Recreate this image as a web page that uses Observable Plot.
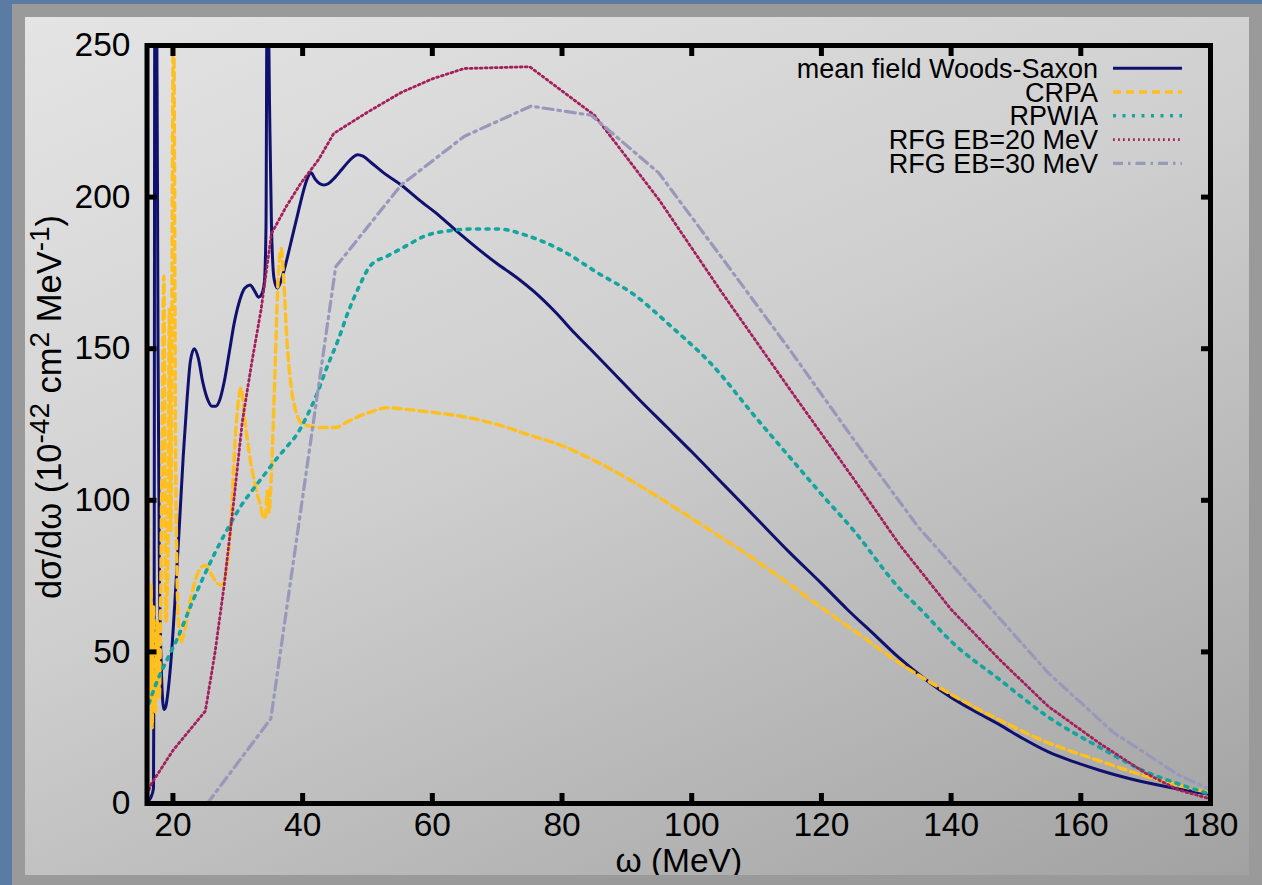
<!DOCTYPE html>
<html>
<head>
<meta charset="utf-8">
<script src="https://cdn.jsdelivr.net/npm/d3@7"></script>
<script src="https://cdn.jsdelivr.net/npm/@observablehq/plot@0.6"></script>
<style>
html, body { margin: 0; padding: 0; }
body { width: 1262px; height: 885px; background: #5a7ca4; position: relative; overflow: hidden;
  font-family: "Liberation Sans", Arial, Helvetica, sans-serif; }
#band { position: absolute; left: 12px; top: 4px; right: 0; bottom: 0; background: #9a9a9a; }
#panel { position: absolute; left: 25px; top: 17px; width: 1224px; height: 858px; overflow: hidden;
  background: linear-gradient(156deg, #e4e4e4 0%, #cfcfcf 45%, #a2a2a2 100%); }
#panel svg { display: block; }
</style>
</head>
<body>
<div id="band"></div>
<div id="panel"></div>
<script>
// ---------- data ----------
const xTicks = [20, 40, 60, 80, 100, 120, 140, 160, 180];
const yTicks = [0, 50, 100, 150, 200, 250];
const seriesNames = ["mean field Woods-Saxon", "CRPA", "RPWIA", "RFG EB=20 MeV", "RFG EB=30 MeV"];
const seriesColors = ["#10106e", "#ffbf1f", "#14a5a0", "#a3205c", "#9898bb"];

const wsOmega = [16.0, 16.6, 17.0, 17.1, 17.2, 17.5, 17.7, 17.9, 18.2, 18.6, 18.9, 19.3, 19.8, 20.4, 21.0, 21.6, 22.2, 22.7, 23.3, 23.9, 24.6, 25.4, 26.0, 26.6, 27.2, 27.9, 28.7, 29.5, 30.3, 31.1, 31.9, 32.6, 33.2, 33.7, 34.1, 34.35, 34.5, 34.7, 34.9, 35.2, 35.6, 36.1, 36.6, 37.4, 38.3, 39.2, 40.0, 40.7, 41.3, 41.9, 42.6, 43.3, 44.0, 45.0, 46.0, 47.2, 48.5, 49.3, 50.5, 52.5, 55.2, 58, 61, 63.9, 67, 70, 73, 75.7, 79, 82, 85, 87.5, 92, 96, 100, 105, 110, 115, 120, 124, 128, 132, 136, 140, 144, 147.7, 151, 155, 159, 163, 167, 171, 175, 180];
const wsSigma = [0.5, 2, 5, 60, 262, 262, 150, 80, 45, 31, 32, 38, 50, 70, 92, 115, 134, 146, 150, 147, 139, 133, 131, 131, 133, 139, 149, 159, 166, 170, 171, 169, 167, 168, 172, 190, 262, 262, 230, 190, 173, 170, 172, 178, 186, 194, 201, 206, 208, 206, 204.5, 204, 204.5, 206.5, 209, 212, 214, 213.5, 211.5, 208, 204, 199, 194, 188.5, 183, 178, 173.5, 168.8, 162, 155, 148.5, 143, 133, 124.5, 116, 105, 94, 83, 72.6, 64, 56, 48, 41, 35, 30, 25.7, 21.5, 17, 13.7, 10.9, 8.5, 6.5, 4.8, 3];

const crpaOmega = [16.0, 16.2, 16.4, 16.6, 16.8, 17.0, 17.3, 17.6, 17.9, 18.3, 18.6, 18.9, 19.2, 19.45, 19.7, 19.9, 20.1, 20.4, 20.8, 21.2, 21.8, 22.6, 23.5, 24.4, 25.0, 25.8, 26.7, 27.6, 28.3, 29.0, 29.6, 30.1, 30.5, 31.0, 31.8, 32.7, 33.5, 34.0, 34.3, 34.55, 34.8, 35.2, 35.7, 36.2, 36.7, 37.1, 37.6, 38.2, 39.0, 39.8, 41, 43, 45, 47, 49, 51, 53, 56, 60, 65, 70, 75, 80, 86, 93, 100, 110, 120.4, 126, 132, 140, 147.7, 155, 163, 170, 175, 180];
const crpaSigma = [2, 100, 35, 72, 25, 65, 30, 60, 35, 110, 174, 60, 75, 163, 90, 200, 262, 120, 62, 53, 57, 66, 74, 78, 78.5, 76, 73, 72, 78, 95, 120, 133, 137, 128, 115, 105, 98, 94, 95, 103, 96, 110, 140, 172, 183, 172, 152, 138, 129, 125.5, 124.5, 124, 124, 126, 128, 129.5, 130.5, 130, 129, 127.5, 125, 121.5, 118, 112, 103.5, 94, 80, 64, 55.5, 46.4, 36, 27.3, 20, 14, 9, 6, 3.5];

const rpwiaOmega = [16.3, 17.5, 19, 20.8, 22.9, 24.9, 26.8, 28.8, 30.6, 32.5, 34.3, 36.1, 37.7, 39.2, 40.6, 42, 43.9, 45.5, 47, 48.7, 50.5, 53, 55.2, 59.3, 63, 66.5, 70, 75, 80.3, 85.5, 91, 97, 103, 110, 116, 120, 125, 132, 135.3, 140, 147.7, 155, 163, 170, 175, 180];
const rpwiaSigma = [33, 40, 47, 55, 66, 75.6, 84, 92, 98.5, 104, 109, 114, 118, 122, 127.5, 134, 144.7, 153, 162, 170.5, 177.5, 180.5, 183, 187.5, 189, 189.5, 189.5, 187, 182, 175, 168, 157, 145, 127, 112, 102, 90, 71, 64, 53.5, 40.5, 28.5, 18.4, 10.5, 6.5, 3];

const rfg20Omega = [16.0, 16.7, 20, 25, 26.5, 27.9, 29.4, 30.7, 32.2, 33.6, 35.2, 37.5, 39.7, 42.5, 44.8, 50, 55.2, 60, 64.9, 75, 85, 95, 104.5, 115, 125, 132, 140, 147.7, 155, 163, 170, 175, 180];
const rfg20Sigma = [3, 6.6, 17.5, 30.5, 50, 72, 100, 126, 146, 163, 188, 197, 204.5, 212.5, 221, 228, 234.5, 239, 242.4, 243, 227, 199, 169, 137, 107, 85.5, 64, 47, 32, 19.7, 10, 4.5, 1.5];

const rfg30Omega = [25.3, 35.1, 45.1, 55.2, 64.9, 75.2, 84.5, 94.9, 105, 115, 125, 135, 145, 155, 165, 175, 180];
const rfg30Sigma = [0, 28, 177, 204, 220, 230, 227, 208, 179, 150, 120, 91, 67, 43, 23.5, 9.5, 4.5];

// ---------- chart ----------
const FONT = '"Liberation Sans", Arial, Helvetica, sans-serif';
const rows = (om, sg) => om.map((w, i) => ({w, s: sg[i]}));
const data = [
  rows(wsOmega, wsSigma),
  rows(crpaOmega, crpaSigma),
  rows(rpwiaOmega, rpwiaSigma),
  rows(rfg20Omega, rfg20Sigma),
  rows(rfg30Omega, rfg30Sigma)
];
const styles = [
  {strokeWidth: 3, strokeDasharray: null, curve: "monotone-x"},
  {strokeWidth: 3.4, strokeDasharray: "8,5", curve: "monotone-x"},
  {strokeWidth: 3.6, strokeDasharray: "3,6.5", curve: "monotone-x"},
  {strokeWidth: 2.8, strokeDasharray: "1.8,3.2", curve: "linear"},
  {strokeWidth: 3.2, strokeDasharray: "10,5,2.5,5", curve: "linear"}
];

const lineMarks = data.map((d, i) => Plot.line(d, {
  x: "w", y: "s", stroke: seriesColors[i], strokeWidth: styles[i].strokeWidth,
  strokeDasharray: styles[i].strokeDasharray, curve: styles[i].curve, clip: true
}));

const svg = Plot.plot({
  width: 1224, height: 858,
  marginLeft: 121.5, marginRight: 39, marginTop: 28, marginBottom: 72,
  style: {background: "transparent", color: "black", fontFamily: FONT, overflow: "visible"},
  x: {domain: [16, 180], label: null},
  y: {domain: [0, 250], label: null},
  marks: [
    ...lineMarks,
    Plot.frame({stroke: "black", strokeWidth: 5}),
    Plot.axisX(xTicks, {anchor: "bottom", tickSize: -10, strokeWidth: 5, tickPadding: 19, fontSize: 33.5, label: null}),
    Plot.axisX(xTicks, {anchor: "top", tickSize: -10, strokeWidth: 5, tickFormat: () => "", label: null}),
    Plot.axisY(yTicks, {anchor: "left", tickSize: -10, strokeWidth: 5, tickPadding: 26.5, fontSize: 33.5, label: null}),
    Plot.axisY(yTicks, {anchor: "right", tickSize: -10, strokeWidth: 5, tickFormat: () => "", label: null}),
    Plot.text(["ω (MeV)"], {text: d => d, frameAnchor: "bottom", lineAnchor: "top", dy: 45, fontSize: 33.5, fill: "black"})
  ]
});

const s = d3.select(svg);
// y-axis label with superscripts
const yl = s.append("text")
  .attr("transform", "translate(36,390) rotate(-90)")
  .attr("text-anchor", "middle")
  .attr("font-size", 34.5)
  .attr("fill", "black")
  .style("white-space", "pre");
yl.append("tspan").text("dσ/dω (10");
yl.append("tspan").attr("dy", -12).attr("font-size", 28).text("-42");
yl.append("tspan").attr("dy", 12).text(" cm");
yl.append("tspan").attr("dy", -12).attr("font-size", 28).text("2");
yl.append("tspan").attr("dy", 12).text(" MeV");
yl.append("tspan").attr("dy", -12).attr("font-size", 28).text("-1");
yl.append("tspan").attr("dy", 12).text(")");

// legend (gnuplot style, inside the frame, top right)
const lg = s.append("g").attr("font-size", 27).attr("fill", "black");
seriesNames.forEach((name, i) => {
  const y = 51.3 + i * 23.75;
  lg.append("text").attr("x", 1073).attr("y", y).attr("dy", "0.35em")
    .attr("text-anchor", "end").text(name);
  lg.append("line").attr("x1", 1088).attr("x2", 1157).attr("y1", y).attr("y2", y)
    .attr("stroke", seriesColors[i]).attr("stroke-width", styles[i].strokeWidth)
    .attr("stroke-dasharray", styles[i].strokeDasharray);
});

document.getElementById("panel").appendChild(svg);
</script>
</body>
</html>
